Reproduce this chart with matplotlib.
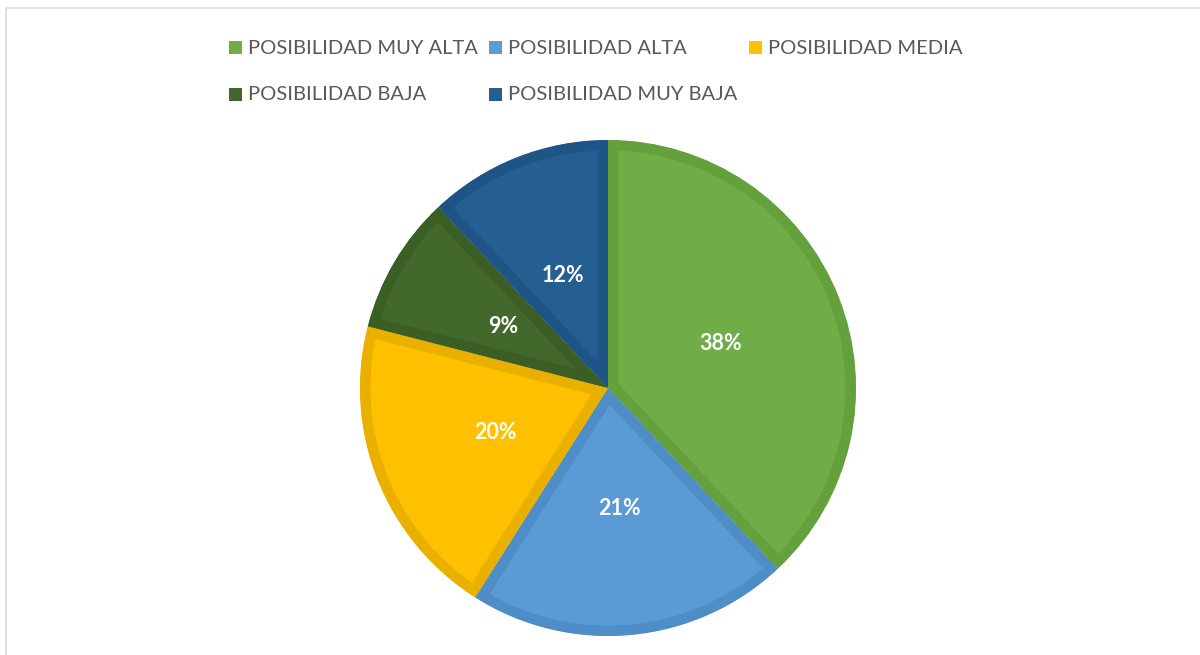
import matplotlib.pyplot as plt
from matplotlib.patches import Rectangle

labels = ["POSIBILIDAD MUY ALTA", "POSIBILIDAD ALTA", "POSIBILIDAD MEDIA",
          "POSIBILIDAD BAJA", "POSIBILIDAD MUY BAJA"]
values = [38, 21, 20, 9, 12]
colors = ["#70AD47", "#5B9BD5", "#FFC000", "#43682B", "#255E91"]
edge_colors = ["#64A03C", "#4F8DC6", "#EAB000", "#3B5E25", "#1F5487"]

plt.rcParams['font.family'] = ['Lato', 'DejaVu Sans']

W, H = 1200, 655
fig = plt.figure(figsize=(W / 100, H / 100), dpi=100)

# light frame
fig.patches.append(Rectangle((6 / W, -0.01), 1.2, (H - 8) / H + 0.01,
                             transform=fig.transFigure, fill=False,
                             edgecolor="#D9D9D9", linewidth=1.2))

# pie axes: centre (608, 388) radius 248 px
cx, cy, r = 608, 388, 248
ax = fig.add_axes([(cx - r) / W, (H - cy - r) / H, 2 * r / W, 2 * r / H])
wedges, texts, autotexts = ax.pie(values, colors=colors, startangle=90,
                                  counterclock=False, autopct='%1.0f%%',
                                  pctdistance=0.49,
                                  textprops=dict(color='white', fontsize=15.5,
                                                 fontweight='bold'))
# darker inner border: thick edge clipped to the wedge itself
for w, ec in zip(wedges, edge_colors):
    w.set_edgecolor(ec)
    w.set_linewidth(15)
    w.set_clip_on(True)
    w.set_clip_box(None)
    w.set_clip_path(w)
ax.set_xlim(-1.0, 1.0)
ax.set_ylim(-1.0, 1.0)
ax.set_aspect('equal')
ax.axis('off')

# legend, drawn by hand to keep Excel's fixed column layout
legend_pos = [(229, 48), (489, 48), (749, 48), (229, 95), (489, 95)]
for (x, y), lab, col in zip(legend_pos, labels, colors):
    fig.patches.append(Rectangle((x / W, (H - y - 6) / H), 13 / W, 13 / H,
                                 transform=fig.transFigure, facecolor=col,
                                 edgecolor='none'))
    fig.text((x + 19) / W, (H - y) / H, lab, fontsize=14.5, color='#595959',
             va='center', ha='left')

plt.savefig('out.png', dpi=100)
